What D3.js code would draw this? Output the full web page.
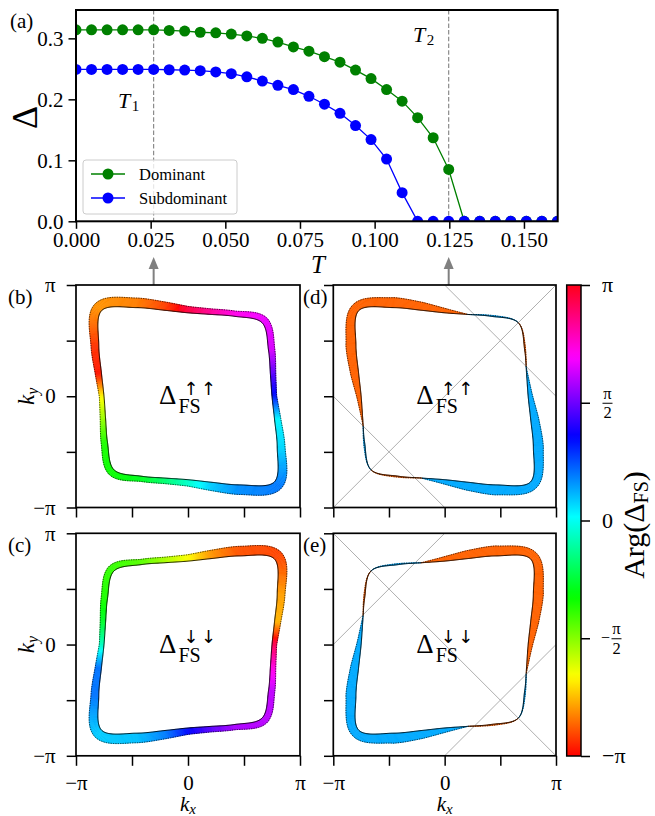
<!DOCTYPE html>
<html><head><meta charset="utf-8">
<script src="https://cdn.jsdelivr.net/npm/d3@7"></script>
<style>
body{margin:0;background:#fff}
svg{display:block}
text{font-family:"Liberation Serif","Times New Roman",serif;fill:#000}
</style></head><body>
<svg id="fig" width="655" height="816"></svg>
<script>
// ---------------- data: panel (a) ----------------
const T = [0, 0.0052, 0.0104, 0.0156, 0.0208, 0.026, 0.0312, 0.0364, 0.0416, 0.0468, 0.052, 0.0572,
  0.0624, 0.0676, 0.0728, 0.078, 0.0832, 0.0884, 0.0936, 0.0988, 0.104, 0.1092, 0.1144, 0.1196,
  0.1248, 0.13, 0.1352, 0.1404, 0.1456, 0.1508, 0.156, 0.1612];
const dominant = [0.314, 0.314, 0.314, 0.314, 0.314, 0.314, 0.313, 0.312, 0.310, 0.309, 0.307, 0.304,
  0.300, 0.294, 0.286, 0.279, 0.270, 0.261, 0.248, 0.234, 0.216, 0.197, 0.170, 0.137,
  0.085, 0, 0, 0, 0, 0, 0, 0];
const subdominant = [0.249, 0.249, 0.249, 0.249, 0.249, 0.249, 0.2485, 0.248, 0.247, 0.245, 0.242, 0.237,
  0.230, 0.223, 0.216, 0.205, 0.192, 0.177, 0.157, 0.134, 0.102, 0.047, 0, 0,
  0, 0, 0, 0, 0, 0, 0, 0];
const seriesNames = ["Dominant", "Subdominant"];
const T1 = 0.026, T2 = 0.1248;
const xTicksA = [0, 0.025, 0.05, 0.075, 0.1, 0.125, 0.15];
const yTicksA = [0, 0.1, 0.2, 0.3];

// ---------------- data: Fermi-surface panels (angles in degrees, radii/widths in units of π) ----------------
const fsAngles = [0,15,30,45,60,75,90,105,120,135,150,165,180,195,210,225,240,255,270,285,300,315,330,345];
const rUp   = [0.750,0.762,0.830,0.935,0.830,0.762,0.750,0.800,0.920,1.090,0.920,0.800,
               0.750,0.762,0.830,0.935,0.830,0.762,0.750,0.800,0.920,1.090,0.920,0.800];
const rDown = [0.750,0.800,0.920,1.090,0.920,0.800,0.750,0.762,0.830,0.935,0.830,0.762,
               0.750,0.800,0.920,1.090,0.920,0.800,0.750,0.762,0.830,0.935,0.830,0.762];
const widthB = [0.042,0.048,0.057,0.060,0.047,0.050,0.057,0.074,0.086,0.084,0.070,0.056,
                0.042,0.048,0.057,0.060,0.047,0.050,0.057,0.074,0.086,0.084,0.070,0.056];
const phaseB = [0.333,0.472,0.639,0.667,0.722,0.833,0.944,-0.917,-0.833,-0.806,-0.933,-0.972,
                -0.667,-0.528,-0.361,-0.333,-0.278,-0.167,-0.056,0.083,0.167,0.194,0.067,0.028];
const widthC = [0.042,0.056,0.070,0.084,0.086,0.074,0.057,0.050,0.047,0.060,0.057,0.048,
                0.042,0.056,0.070,0.084,0.086,0.074,0.057,0.050,0.047,0.060,0.057,0.048];
const phaseC = [0.92,-0.76,-0.79,-0.91,-0.89,-0.80,-0.66,-0.55,-0.44,-0.39,-0.36,-0.26,
                -0.07,0.20,0.20,0.085,0.10,0.19,0.35,0.47,0.58,0.60,0.61,0.74];
// dominant-only gap at T2 (signed width; sign selects phase)
const angD = [0,10,20,32,45,58,74,90,105,120,135,150,165,180,190,200,212,225,238,254,270,285,300,315,330,345];
const gapD = [0.040,0.020,0,-0.010,0,0.010,0,-0.040,-0.072,-0.090,-0.073,-0.090,-0.072,
              -0.040,-0.020,0,0.010,0,-0.010,0,0.040,0.072,0.090,0.073,0.090,0.072];
const angE = [0,15,30,45,60,75,90,106,122,135,148,160,170,180,195,210,225,240,255,270,286,302,315,328,340,350];
const gapE = [-0.040,-0.072,-0.090,-0.073,-0.090,-0.072,-0.040,0,0.010,0,-0.010,0,0.020,
              0.040,0.072,0.090,0.073,0.090,0.072,0.040,0,-0.010,0,0.010,0,-0.020];
const dominantPhase = 0.13; // units of π
const kTicks = [-Math.PI, -Math.PI/2, 0, Math.PI/2, Math.PI];

// ---------------- colormap (matplotlib hsv) ----------------
const cmR = d3.scaleLinear().domain([0,0.158730,0.174603,0.333333,0.349206,0.666667,0.682540,0.841270,0.857143,1])
  .range([1,1,0.96875,0.03125,0,0,0.03125,0.96875,1,1]);
const cmG = d3.scaleLinear().domain([0,0.158730,0.174603,0.507937,0.666667,0.682540,1])
  .range([0,0.9375,1,1,0.0625,0,0]);
const cmB = d3.scaleLinear().domain([0,0.333333,0.349206,0.507937,0.841270,0.857143,1])
  .range([0,0,0.0625,1,1,0.9375,0.09375]);
function cmap(t){ return d3.rgb(cmR(t)*255, cmG(t)*255, cmB(t)*255).formatHex(); }
function phaseColor(ph){ const p = (((ph + 1) % 2) + 2) % 2 - 1; return cmap((p + 1) / 2); }

function interpPeriodic(angs, vals, th, isPhase){
  const n = angs.length; let k = n - 1;
  for (let i = 0; i < n; i++) if (angs[i] <= th) k = i;
  const a0 = angs[k], a1 = (k + 1 < n) ? angs[k + 1] : angs[0] + 360;
  const v0 = vals[k], v1 = vals[(k + 1) % n];
  const f = (th - a0) / (a1 - a0);
  let d = v1 - v0;
  if (isPhase) d -= 2 * Math.round(d / 2);
  return v0 + f * d;
}

const svg = d3.select('#fig');
const defs = svg.append('defs');
const GRAY = '#808080';

// ================= panel (a) =================
const A = {x0:76, x1:557.7, y0:10, y1:221.3};
const xA = d3.scaleLinear().domain([0, 0.1613]).range([A.x0, A.x1]);
const yA = d3.scaleLinear().domain([0, 0.3465]).range([A.y1, A.y0]);
defs.append('clipPath').attr('id','clipA').append('rect')
  .attr('x',A.x0).attr('y',A.y0).attr('width',A.x1-A.x0).attr('height',A.y1-A.y0);
const gA = svg.append('g');
const plotA = gA.append('g').attr('clip-path','url(#clipA)');
[T1, T2].forEach(t => plotA.append('line').attr('x1',xA(t)).attr('x2',xA(t)).attr('y1',A.y0).attr('y2',A.y1)
  .attr('stroke',GRAY).attr('stroke-width',1.1).attr('stroke-dasharray','4.5,2.2'));
const seriesA = [{v:dominant, c:'#008000'}, {v:subdominant, c:'#0000ff'}];
const lineA = d3.line().x((d,i)=>xA(T[i])).y(d=>yA(d));
seriesA.forEach(s => {
  plotA.append('path').attr('d', lineA(s.v)).attr('fill','none').attr('stroke',s.c).attr('stroke-width',1.3);
  plotA.selectAll(null).data(s.v).enter().append('circle')
    .attr('cx',(d,i)=>xA(T[i])).attr('cy',d=>yA(d)).attr('r',5.5).attr('fill',s.c);
});
// axes
const axA_x = gA.append('g').attr('transform',`translate(0,${A.y1})`)
  .call(d3.axisBottom(xA).tickValues(xTicksA).tickFormat(d3.format('.3f')).tickSize(7.5).tickPadding(3.5));
const axA_y = gA.append('g').attr('transform',`translate(${A.x0},0)`)
  .call(d3.axisLeft(yA).tickValues(yTicksA).tickFormat(d3.format('.1f')).tickSize(7.5).tickPadding(5));
[axA_x, axA_y].forEach(g => {
  g.select('.domain').remove();
  g.selectAll('line').attr('stroke','#000').attr('stroke-width',1.5);
  g.selectAll('text').style('font-family','"Liberation Serif",serif').attr('font-size',21).attr('fill','#000');
});
gA.append('rect').attr('x',A.x0).attr('y',A.y0).attr('width',A.x1-A.x0).attr('height',A.y1-A.y0)
  .attr('fill','none').attr('stroke','#000').attr('stroke-width',2);
// labels
gA.append('text').attr('x',10).attr('y',28).attr('font-size',21).text('(a)');
gA.append('text').attr('x',318).attr('y',272.5).attr('text-anchor','middle').attr('font-size',25)
  .attr('font-style','italic').text('T');
gA.append('text').attr('transform','translate(37,117.5) rotate(-90)').attr('text-anchor','middle')
  .attr('font-size',36).text('Δ');
function tLabel(x, y, sub){
  const t = gA.append('text').attr('x',x).attr('y',y).attr('font-size',22);
  t.append('tspan').attr('font-style','italic').text('T');
  t.append('tspan').attr('font-size',15).attr('dx',1.5).attr('dy',3).text(sub);
}
tLabel(118, 108, '1');
tLabel(413, 42, '2');
// legend
const lg = gA.append('g');
lg.append('rect').attr('x',83).attr('y',160).attr('width',154).attr('height',54).attr('rx',3)
  .attr('fill','#fff').attr('fill-opacity',0.8).attr('stroke','#cccccc').attr('stroke-width',1);
seriesA.forEach((s,i) => {
  const y = 174 + i*24;
  lg.append('line').attr('x1',91).attr('x2',125).attr('y1',y).attr('y2',y).attr('stroke',s.c).attr('stroke-width',1.3);
  lg.append('circle').attr('cx',108).attr('cy',y).attr('r',5.5).attr('fill',s.c);
  lg.append('text').attr('x',139).attr('y',y+6).attr('font-size',16.5).text(seriesNames[i]);
});
// arrows from T1/T2 to lower panels
[T1, T2].forEach(t => {
  const x = xA(t);
  svg.append('line').attr('x1',x).attr('x2',x).attr('y1',285).attr('y2',268).attr('stroke',GRAY).attr('stroke-width',2);
  svg.append('path').attr('d',`M${x},257 L${x-5},269 L${x+5},269 Z`).attr('fill',GRAY);
});

// ================= Fermi-surface panels =================
const panels = [
  {lab:'(b)', x0:76,    x1:300, y0:285,   y1:507.5, r:rUp,   spin:'↑', mode:'mixed', w:widthB, ph:phaseB, xl:false, yl:true},
  {lab:'(c)', x0:76,    x1:300, y0:533.3, y1:755.8, r:rDown, spin:'↓', mode:'mixed', w:widthC, ph:phaseC, xl:true,  yl:true},
  {lab:'(d)', x0:333.3, x1:556, y0:285,   y1:507.5, r:rUp,   spin:'↑', mode:'dom', ang:angD, g:gapD, xl:false, yl:false,
   nodal:[[[-1,-1],[1,1]],[[0,1],[1,0]],[[-1,0],[0,-1]]]},
  {lab:'(e)', x0:333.3, x1:556, y0:533.3, y1:755.8, r:rDown, spin:'↓', mode:'dom', ang:angE, g:gapE, xl:true,  yl:false,
   nodal:[[[-1,1],[1,-1]],[[-1,0],[0,1]],[[0,-1],[1,0]]]}
];
const kFmt = d => Math.abs(d) < 1e-9 ? '0' : (Math.abs(Math.abs(d) - Math.PI) < 1e-9 ? (d < 0 ? '−π' : 'π') : '');

panels.forEach((P, pi) => {
  const g = svg.append('g');
  const xs = d3.scaleLinear().domain([-Math.PI, Math.PI]).range([P.x0, P.x1]);
  const ys = d3.scaleLinear().domain([-Math.PI, Math.PI]).range([P.y1, P.y0]);
  const cid = 'clipP' + pi;
  defs.append('clipPath').attr('id',cid).append('rect')
    .attr('x',P.x0).attr('y',P.y0).attr('width',P.x1-P.x0).attr('height',P.y1-P.y0);
  const inside = g.append('g').attr('clip-path',`url(#${cid})`);
  if (P.nodal) P.nodal.forEach(seg => inside.append('line')
    .attr('x1',xs(seg[0][0]*Math.PI)).attr('y1',ys(seg[0][1]*Math.PI))
    .attr('x2',xs(seg[1][0]*Math.PI)).attr('y2',ys(seg[1][1]*Math.PI))
    .attr('stroke','#9a9a9a').attr('stroke-width',0.8));

  const pts = fsAngles.map((a,i) => [a, P.r[i]]);
  const fsLine = d3.line()
    .x(d => xs(d[1]*Math.PI*Math.cos(d[0]*Math.PI/180)))
    .y(d => ys(d[1]*Math.PI*Math.sin(d[0]*Math.PI/180)))
    .curve(d3.curveCatmullRomClosed.alpha(0.5));
  const tmp = inside.append('path').attr('d', fsLine(pts)).attr('fill','none');
  const node = tmp.node(), L = node.getTotalLength(), N = 720;
  const inner = d3.range(N).map(i => { const p = node.getPointAtLength(L*i/N); return [p.x, p.y]; });
  tmp.remove();
  const cx = xs(0), cy = ys(0);
  const pxPerPi = ((xs(Math.PI)-xs(0)) + (ys(0)-ys(Math.PI))) / 2;
  const outer = [], cols = [];
  inner.forEach((p, i) => {
    const a = inner[(i-1+N)%N], b = inner[(i+1)%N];
    let tx = b[0]-a[0], ty = b[1]-a[1]; const len = Math.hypot(tx,ty) || 1;
    let nx = ty/len, ny = -tx/len;
    if ((p[0]-cx)*nx + (p[1]-cy)*ny < 0) { nx = -nx; ny = -ny; }
    let th = Math.atan2(ys.invert(p[1]), xs.invert(p[0])) * 180 / Math.PI; if (th < 0) th += 360;
    let w, ph;
    if (P.mode === 'mixed') { w = interpPeriodic(fsAngles, P.w, th, false); ph = interpPeriodic(fsAngles, P.ph, th, true); }
    else { const s = interpPeriodic(P.ang, P.g, th, false); w = Math.abs(s); ph = s >= 0 ? dominantPhase : dominantPhase - 1; }
    outer.push([p[0] + nx*w*pxPerPi, p[1] + ny*w*pxPerPi]);
    cols.push(phaseColor(ph));
  });
  const band = inside.append('g');
  for (let i = 0; i < N; i++) {
    const j = (i+1) % N;
    band.append('path')
      .attr('d', `M${inner[i][0]},${inner[i][1]}L${inner[j][0]},${inner[j][1]}L${outer[j][0]},${outer[j][1]}L${outer[i][0]},${outer[i][1]}Z`)
      .attr('fill', cols[i]).attr('stroke', cols[i]).attr('stroke-width', 0.6).attr('stroke-linejoin','round');
  }
  const closed = d3.line().curve(d3.curveLinearClosed);
  inside.append('path').attr('d', closed(outer)).attr('fill','none').attr('stroke','#000')
    .attr('stroke-width',0.7).attr('stroke-dasharray','1.3,1.1');
  inside.append('path').attr('d', closed(inner)).attr('fill','none').attr('stroke','#000').attr('stroke-width',0.9);

  // Δ_FS label (one text element: Δ, subscript FS, superscript spin arrows)
  const lx = P.x0, ly = P.y0;
  const dl = g.append('text').attr('x',lx+83).attr('y',ly+119.3).attr('font-size',27);
  dl.append('tspan').text('Δ');
  dl.append('tspan').attr('font-size',20).attr('dx',2).attr('dy',9).text('FS');
  [115, 132.5].forEach(dx => dl.append('tspan').attr('x',lx+dx).attr('y',ly+109.5).attr('text-anchor','middle')
    .style('font-family','"DejaVu Sans",sans-serif').style('fill','#000').attr('font-size',18).text(P.spin));

  // axes
  const ax1 = g.append('g').attr('transform',`translate(${P.x0},0)`)
    .call(d3.axisLeft(ys).tickValues(kTicks).tickSize(9.3).tickPadding(11).tickFormat(P.yl ? kFmt : () => ''));
  const ax2 = g.append('g').attr('transform',`translate(0,${P.y1})`)
    .call(d3.axisBottom(xs).tickValues(kTicks).tickSize(10).tickPadding(9.3).tickFormat(P.xl ? kFmt : () => ''));
  [ax1, ax2].forEach(a => {
    a.select('.domain').remove();
    a.selectAll('line').attr('stroke','#000').attr('stroke-width',1.5);
    a.selectAll('text').style('font-family','"Liberation Serif",serif').attr('font-size',21).attr('fill','#000');
  });
  g.append('rect').attr('x',P.x0).attr('y',P.y0).attr('width',P.x1-P.x0).attr('height',P.y1-P.y0)
    .attr('fill','none').attr('stroke','#000').attr('stroke-width',1.7);
  g.append('text').attr('x', P.x0 < 100 ? 8 : 303).attr('y', P.y0 + 18.5).attr('font-size',21).text(P.lab);

  if (P.yl) {
    const t = g.append('text').attr('transform',`translate(34,${(P.y0+P.y1)/2}) rotate(-90)`)
      .attr('text-anchor','middle').attr('font-size',23);
    t.append('tspan').attr('font-style','italic').text('k');
    t.append('tspan').attr('font-style','italic').attr('font-size',16).attr('dy',4).text('y');
  }
  if (P.xl) {
    const t = g.append('text').attr('x',(P.x0+P.x1)/2).attr('y',810.5).attr('text-anchor','middle').attr('font-size',21);
    t.append('tspan').attr('font-style','italic').text('k');
    t.append('tspan').attr('font-style','italic').attr('font-size',15).attr('dy',3.5).text('x');
  }
});

// ================= colorbar =================
const CB = {x0:566.7, x1:581, y0:285, y1:756};
const yCB = d3.scaleLinear().domain([-Math.PI, Math.PI]).range([CB.y1, CB.y0]);
const grad = defs.append('linearGradient').attr('id','cbgrad').attr('x1',0).attr('y1',1).attr('x2',0).attr('y2',0);
const stopsT = Array.from(new Set([...cmR.domain(), ...cmG.domain(), ...cmB.domain()])).sort((a,b)=>a-b);
stopsT.forEach(t => grad.append('stop').attr('offset', t).attr('stop-color', cmap(t)));
svg.append('rect').attr('x',CB.x0).attr('y',CB.y0).attr('width',CB.x1-CB.x0).attr('height',CB.y1-CB.y0)
  .attr('fill','url(#cbgrad)').attr('stroke','#000').attr('stroke-width',1.5);
const axCB = svg.append('g').attr('transform',`translate(${CB.x1},0)`)
  .call(d3.axisRight(yCB).tickValues(kTicks).tickSize(9).tickFormat(() => ''));
axCB.select('.domain').remove();
axCB.selectAll('line').attr('stroke','#000').attr('stroke-width',1.5);
svg.append('text').attr('x',602).attr('y',yCB(Math.PI)+7).attr('font-size',22).text('π');
svg.append('text').attr('x',602).attr('y',yCB(0)+7).attr('font-size',22).text('0');
svg.append('text').attr('x',602).attr('y',yCB(-Math.PI)+7).attr('font-size',22).text('−π');
function frac(xc, y){
  svg.append('text').attr('x',xc).attr('y',y-4).attr('text-anchor','middle').attr('font-size',16.5).text('π');
  svg.append('line').attr('x1',xc-5).attr('x2',xc+5).attr('y1',y+0.5).attr('y2',y+0.5).attr('stroke','#000').attr('stroke-width',1);
  svg.append('text').attr('x',xc).attr('y',y+15.5).attr('text-anchor','middle').attr('font-size',16.5).text('2');
}
frac(607.5, yCB(Math.PI/2));
svg.append('text').attr('x',601).attr('y',yCB(-Math.PI/2)+4.5).attr('font-size',16).text('−');
frac(616.5, yCB(-Math.PI/2));
const cbl = svg.append('text').attr('transform',`translate(644,525) rotate(-90)`).attr('text-anchor','middle').attr('font-size',30);
cbl.append('tspan').text('Arg(Δ');
cbl.append('tspan').attr('font-size',20).attr('dy',4).text('FS');
cbl.append('tspan').attr('dy',-4).text(')');
</script>
</body></html>
